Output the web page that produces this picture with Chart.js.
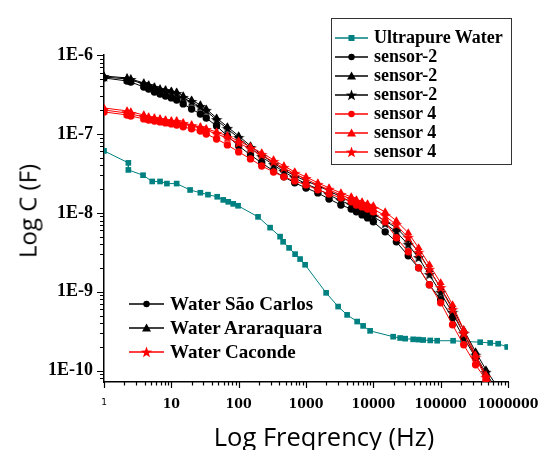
<!DOCTYPE html>
<html>
<head>
<meta charset="utf-8">
<script src="https://cdn.jsdelivr.net/npm/chart.js@4.4.0/dist/chart.umd.min.js"></script>
<style>
    body { margin: 0; background: #fff; }
    #wrap { position: relative; width: 544px; height: 450px; }
    #chart { position: absolute; left: 0; top: 0; }
    .legend { position: absolute; font-family: "Liberation Serif", serif; font-weight: bold; color: #000; }
    .legend .row { display: flex; align-items: center; white-space: nowrap; }
    .legend svg { flex: none; }
    #legendTop { left: 331px; top: 18px; width: 181px; height: 147px; border: 1.5px solid #333; font-size: 18px; }
    #legendTop .row { height: 19px; }
    #legendBottom { left: 129px; top: 292px; font-size: 19px; }
    #legendBottom .row { height: 24px; }
    .axisTitle { position: absolute; font-family: "Open Sans", sans-serif; font-size: 24px; color: #000; white-space: nowrap; }
    #yTitle { left: 27px; top: 211px; transform: translate(-50%, -50%) rotate(-90deg); }
    #xTitle { left: 324px; top: 436px; font-size: 25.5px; transform: translate(-50%, -50%); }
</style>
</head>
<body>
<div id="wrap">
    <canvas id="chart" width="544" height="450"></canvas>
    <div id="legendTop" class="legend"></div>
    <div id="legendBottom" class="legend"></div>
    <div id="yTitle" class="axisTitle">Log C (F)</div>
    <div id="xTitle" class="axisTitle">Log Freqrency (Hz)</div>
</div>
<script>
// 周波数 (Hz)
const freqWater = [1, 2.3, 2.3, 3.8, 5.2, 6.8, 8.6, 12, 19, 27, 35, 48, 59, 70, 83, 98, 194, 293, 412, 457,
    561, 689, 817, 970, 1990, 3000, 4080, 5750, 7050, 8960, 19700, 25000, 29700, 39000, 47000, 55000, 70000,
    88700, 153000, 216000, 386000, 544000, 714000, 973000];
const freqSensor = [1, 2.2, 2.5, 3.9, 4.6, 5.6, 6.8, 8.2, 10, 12, 15, 20, 27, 33, 47, 68, 100, 150, 220, 330,
    470, 680, 1000, 1500, 2200, 3300, 4700, 5600, 6800, 8200, 10000, 15000, 22000, 33000, 47000, 68000,
    100000, 150000, 220000, 330000, 470000, 680000];

// 容量 (F)
const capWater = [6.1e-8, 4.3e-8, 3.5e-8, 3.0e-8, 2.5e-8, 2.5e-8, 2.35e-8, 2.35e-8, 1.95e-8, 1.8e-8,
    1.7e-8, 1.6e-8, 1.46e-8, 1.38e-8, 1.3e-8, 1.23e-8, 8.9e-9, 6.5e-9, 5.0e-9, 4.3e-9,
    3.6e-9, 3.0e-9, 2.6e-9, 2.2e-9, 9.7e-10, 6.5e-10, 5.1e-10, 4.2e-10, 3.7e-10, 3.2e-10,
    2.7e-10, 2.6e-10, 2.55e-10, 2.5e-10, 2.48e-10, 2.45e-10, 2.42e-10, 2.4e-10, 2.4e-10, 2.35e-10,
    2.3e-10, 2.25e-10, 2.2e-10, 2.0e-10];
const capS2Circle = [5.12e-7, 4.69e-7, 4.55e-7, 3.93e-7, 3.71e-7, 3.40e-7, 3.21e-7, 3.03e-7, 2.86e-7, 2.69e-7,
    2.40e-7, 2.07e-7, 1.79e-7, 1.59e-7, 1.26e-7, 9.43e-8, 7.05e-8, 5.42e-8, 4.29e-8, 3.40e-8,
    2.86e-8, 2.40e-8, 2.07e-8, 1.79e-8, 1.50e-8, 1.26e-8, 1.12e-8, 1.03e-8, 9.43e-9, 8.64e-9,
    7.69e-9, 5.75e-9, 4.30e-9, 2.86e-9, 2.01e-9, 1.23e-9, 7.92e-10, 4.69e-10, 2.62e-10, 1.46e-10,
    8.90e-11, 5.42e-11];
const capS2Triangle = [5.42e-7, 5.12e-7, 4.97e-7, 4.42e-7, 4.17e-7, 3.93e-7, 3.71e-7, 3.61e-7, 3.50e-7, 3.40e-7,
    3.03e-7, 2.69e-7, 2.33e-7, 2.07e-7, 1.59e-7, 1.23e-7, 9.43e-8, 7.05e-8, 5.42e-8, 4.29e-8,
    3.50e-8, 2.94e-8, 2.54e-8, 2.20e-8, 1.90e-8, 1.59e-8, 1.38e-8, 1.26e-8, 1.16e-8, 1.06e-8,
    9.71e-9, 7.92e-9, 6.46e-9, 4.55e-9, 3.21e-9, 1.90e-9, 1.12e-9, 6.27e-10, 3.30e-10, 1.74e-10,
    1.03e-10, 6.46e-11];
const capS2Star = [5.26e-7, 4.97e-7, 4.83e-7, 4.29e-7, 4.05e-7, 3.82e-7, 3.61e-7, 3.50e-7, 3.30e-7, 3.21e-7,
    2.86e-7, 2.54e-7, 2.20e-7, 1.96e-7, 1.50e-7, 1.16e-7, 8.90e-8, 6.65e-8, 5.12e-8, 4.05e-8,
    3.30e-8, 2.77e-8, 2.33e-8, 2.01e-8, 1.69e-8, 1.42e-8, 1.26e-8, 1.16e-8, 1.06e-8, 9.71e-9,
    8.90e-9, 7.26e-9, 5.75e-9, 3.94e-9, 2.69e-9, 1.64e-9, 9.71e-10, 5.42e-10, 2.94e-10, 1.55e-10,
    9.43e-11, 5.75e-11];
const capS4Circle = [1.90e-7, 1.74e-7, 1.69e-7, 1.55e-7, 1.50e-7, 1.46e-7, 1.42e-7, 1.38e-7, 1.34e-7, 1.30e-7,
    1.23e-7, 1.16e-7, 1.09e-7, 1.0e-7, 8.64e-8, 7.26e-8, 5.92e-8, 4.83e-8, 3.93e-8, 3.30e-8,
    2.86e-8, 2.54e-8, 2.26e-8, 1.96e-8, 1.74e-8, 1.55e-8, 1.38e-8, 1.26e-8, 1.19e-8, 1.12e-8,
    1.03e-8, 7.69e-9, 4.83e-9, 3.21e-9, 2.01e-9, 1.23e-9, 7.26e-10, 3.82e-10, 2.13e-10, 1.19e-10,
    7.69e-11, 4.83e-11];
const capS4Triangle = [2.13e-7, 1.96e-7, 1.90e-7, 1.74e-7, 1.64e-7, 1.59e-7, 1.55e-7, 1.50e-7, 1.46e-7, 1.46e-7,
    1.38e-7, 1.30e-7, 1.23e-7, 1.16e-7, 1.06e-7, 9.43e-8, 8.15e-8, 6.85e-8, 5.75e-8, 4.69e-8,
    3.93e-8, 3.30e-8, 2.86e-8, 2.40e-8, 2.07e-8, 1.79e-8, 1.59e-8, 1.46e-8, 1.38e-8, 1.30e-8,
    1.23e-8, 1.03e-8, 7.92e-9, 5.58e-9, 3.61e-9, 2.20e-9, 1.30e-9, 6.85e-10, 3.30e-10, 1.59e-10,
    8.90e-11, 5.42e-11];
const capS4Star = [2.01e-7, 1.84e-7, 1.79e-7, 1.64e-7, 1.59e-7, 1.55e-7, 1.50e-7, 1.46e-7, 1.42e-7, 1.42e-7,
    1.34e-7, 1.26e-7, 1.19e-7, 1.12e-7, 1.0e-7, 8.90e-8, 7.69e-8, 6.46e-8, 5.42e-8, 4.42e-8,
    3.71e-8, 3.12e-8, 2.69e-8, 2.26e-8, 1.96e-8, 1.69e-8, 1.50e-8, 1.38e-8, 1.30e-8, 1.23e-8,
    1.12e-8, 9.16e-9, 7.05e-9, 4.83e-9, 3.12e-9, 1.90e-9, 1.12e-9, 5.92e-10, 2.94e-10, 1.46e-10,
    8.15e-11, 5.12e-11];

const seriesLabels = ['Ultrapure Water', 'sensor-2', 'sensor-2', 'sensor-2', 'sensor 4', 'sensor 4', 'sensor 4'];
const sampleLabels = ['Water São Carlos', 'Water Araraquara', 'Water Caconde'];

const TEAL = '#008080';
const BLACK = '#000000';
const RED = '#ff0000';

/**
 * 塗りつぶしの星マーカー
 */
function starImage(color, size) {
    const c = document.createElement('canvas');
    c.width = size;
    c.height = size;
    const g = c.getContext('2d');
    g.fillStyle = color;
    g.beginPath();
    for (let i = 0; i < 10; i++) {
        const r = i % 2 === 0 ? size / 2 : size / 5;
        const a = -Math.PI / 2 + i * Math.PI / 5;
        g.lineTo(size / 2 + r * Math.cos(a), size / 2 + r * Math.sin(a));
    }
    g.closePath();
    g.fill();
    return c;
}

function toPoints(xs, ys) {
    return xs.map((x, i) => ({ x: x, y: ys[i] }));
}

function makeSet(label, xs, ys, color, style, radius, order) {
    return {
        label: label,
        data: toPoints(xs, ys),
        borderColor: color,
        backgroundColor: color,
        borderWidth: 1,
        pointStyle: style,
        pointRadius: radius,
        pointBorderWidth: 0,
        tension: 0,
        order: order
    };
}

function isDecade(v) {
    const e = Math.log10(v);
    return Math.abs(e - Math.round(e)) < 1e-6;
}

// 対数軸の目盛り線 (主目盛りは長め)
const tickMarks = {
    id: 'tickMarks',
    afterDraw(chart) {
        const ctx = chart.ctx;
        const xs = chart.scales.x;
        const ys = chart.scales.y;
        ctx.save();
        ctx.strokeStyle = '#000';
        ctx.lineWidth = 1.2;
        ctx.beginPath();
        xs.ticks.forEach(t => {
            const m = t.value / Math.pow(10, Math.floor(Math.log10(t.value) + 1e-9));
            if (Math.abs(m - Math.round(m)) > 1e-6) return;
            const px = Math.round(xs.getPixelForValue(t.value)) + 0.5;
            const len = isDecade(t.value) ? 6 : 3.5;
            ctx.moveTo(px, xs.top);
            ctx.lineTo(px, xs.top + len);
        });
        ys.ticks.forEach(t => {
            const m = t.value / Math.pow(10, Math.floor(Math.log10(t.value) + 1e-9));
            if (Math.abs(m - Math.round(m)) > 1e-6) return;
            const py = Math.round(ys.getPixelForValue(t.value)) + 0.5;
            const len = isDecade(t.value) ? 7 : 4;
            ctx.moveTo(ys.right, py);
            ctx.lineTo(ys.right - len, py);
        });
        ctx.stroke();
        ctx.restore();
    }
};

/**
 * 凡例の記号 (線 + マーカー)
 */
function legendSymbol(color, shape, width) {
    const c = width / 2;
    let mark = '';
    if (shape === 'rect') {
        mark = `<rect x="${c - 3}" y="3" width="6" height="6" fill="${color}"/>`;
    } else if (shape === 'circle') {
        mark = `<circle cx="${c}" cy="6" r="3.2" fill="${color}"/>`;
    } else if (shape === 'triangle') {
        mark = `<polygon points="${c},1.5 ${c + 4.5},9.5 ${c - 4.5},9.5" fill="${color}"/>`;
    } else {
        let p = [];
        for (let i = 0; i < 10; i++) {
            const r = i % 2 === 0 ? 6 : 2.4;
            const a = -Math.PI / 2 + i * Math.PI / 5;
            p.push((c + r * Math.cos(a)).toFixed(2) + ',' + (6.5 + r * Math.sin(a)).toFixed(2));
        }
        mark = `<polygon points="${p.join(' ')}" fill="${color}"/>`;
    }
    return `<svg width="${width}" height="12"><line x1="0" y1="6" x2="${width}" y2="6" stroke="${color}" stroke-width="1.6"/>${mark}</svg>`;
}

function renderLegends() {
    const top = document.getElementById('legendTop');
    const colors = [TEAL, BLACK, BLACK, BLACK, RED, RED, RED];
    const shapes = ['rect', 'circle', 'triangle', 'star', 'circle', 'triangle', 'star'];
    top.innerHTML = seriesLabels.map((label, i) =>
        `<div class="row"><span style="width:3px"></span>${legendSymbol(colors[i], shapes[i], 33)}<span style="margin-left:6px">${label}</span></div>`
    ).join('');
    top.style.paddingTop = '9px';
    top.style.boxSizing = 'border-box';

    const bottom = document.getElementById('legendBottom');
    const bColors = [BLACK, BLACK, RED];
    const bShapes = ['circle', 'triangle', 'star'];
    bottom.innerHTML = sampleLabels.map((label, i) =>
        `<div class="row">${legendSymbol(bColors[i], bShapes[i], 35)}<span style="margin-left:6px">${label}</span></div>`
    ).join('');
}

const datasets = [
    makeSet(seriesLabels[0], freqWater, capWater, TEAL, 'rect', 4, 2),
    makeSet(seriesLabels[1], freqSensor, capS2Circle, BLACK, 'circle', 3.7, 1),
    makeSet(seriesLabels[2], freqSensor, capS2Triangle, BLACK, 'triangle', 4.6, 1),
    makeSet(seriesLabels[3], freqSensor, capS2Star, BLACK, starImage(BLACK, 12), 5, 1),
    makeSet(seriesLabels[4], freqSensor, capS4Circle, RED, 'circle', 3.7, 0),
    makeSet(seriesLabels[5], freqSensor, capS4Triangle, RED, 'triangle', 4.6, 0),
    makeSet(seriesLabels[6], freqSensor, capS4Star, RED, starImage(RED, 12), 5, 0)
];

new Chart(document.getElementById('chart'), {
    type: 'line',
    data: { datasets: datasets },
    options: {
        responsive: false,
        animation: false,
        devicePixelRatio: 1,
        layout: { padding: { left: 0, right: 36, top: 55, bottom: 0 } },
        plugins: {
            legend: { display: false },
            tooltip: { enabled: false }
        },
        scales: {
            x: {
                type: 'logarithmic',
                min: 1,
                max: 1000000,
                afterFit: scale => {
                    scale.height = 68;
                    scale.paddingLeft = 0;
                    scale.paddingRight = 0;
                },
                border: { display: true, color: '#000', width: 1.5 },
                grid: { display: false, drawTicks: false },
                ticks: {
                    autoSkip: false,
                    maxRotation: 0,
                    padding: 15,
                    color: '#000',
                    font: ctx => (ctx.tick && ctx.tick.value === 1)
                        ? { family: 'DejaVu Sans', size: 9, weight: 'normal' }
                        : { family: 'DejaVu Serif', size: 12.5, weight: 'bold' },
                    callback: v => isDecade(v) ? String(Math.round(v)) : ''
                }
            },
            y: {
                type: 'logarithmic',
                min: 7.2e-11,
                max: 1e-6,
                afterFit: scale => {
                    scale.width = 104;
                    scale.paddingTop = 0;
                    scale.paddingBottom = 0;
                },
                border: { display: true, color: '#000', width: 1.5 },
                grid: { display: false, drawTicks: false },
                ticks: {
                    autoSkip: false,
                    padding: 11,
                    color: '#000',
                    font: { family: 'Liberation Serif', size: 18, weight: 'bold' },
                    callback: v => isDecade(v) ? '1E' + Math.round(Math.log10(v)) : ''
                }
            }
        }
    },
    plugins: [tickMarks]
});

renderLegends();
</script>
</body>
</html>
